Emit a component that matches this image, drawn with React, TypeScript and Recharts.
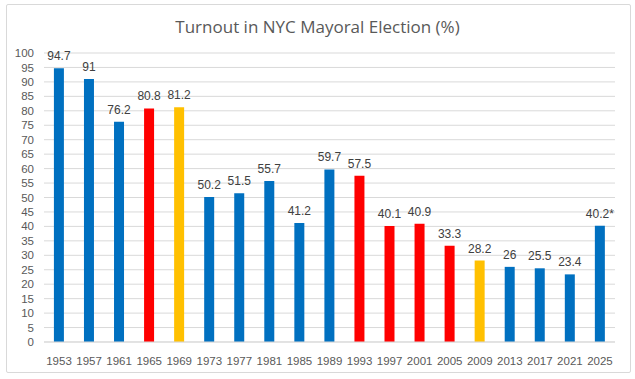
import { BarChart, Bar, XAxis, YAxis, CartesianGrid, Cell, LabelList } from "recharts"

const YEARS = ["1953", "1957", "1961", "1965", "1969", "1973", "1977", "1981", "1985", "1989", "1993", "1997", "2001", "2005", "2009", "2013", "2017", "2021", "2025"]
const TURNOUT = [94.7, 91, 76.2, 80.8, 81.2, 50.2, 51.5, 55.7, 41.2, 59.7, 57.5, 40.1, 40.9, 33.3, 28.2, 26, 25.5, 23.4, 40.2]
const LABELS = ["94.7", "91", "76.2", "80.8", "81.2", "50.2", "51.5", "55.7", "41.2", "59.7", "57.5", "40.1", "40.9", "33.3", "28.2", "26", "25.5", "23.4", "40.2*"]
// D = blue, R = red, L = liberal/other (gold)
const PARTY = ["D", "D", "D", "R", "L", "D", "D", "D", "D", "D", "R", "R", "R", "R", "L", "D", "D", "D", "D"]
const Y_TICKS = [0, 5, 10, 15, 20, 25, 30, 35, 40, 45, 50, 55, 60, 65, 70, 75, 80, 85, 90, 95, 100]

const COLORS: Record<string, string> = { D: "#0070C0", R: "#FF0000", L: "#FFC000" }

const data = YEARS.map((year, i) => ({
  year,
  turnout: TURNOUT[i],
  label: LABELS[i],
  party: PARTY[i],
}))

const FONT = "'Liberation Sans', Arial, sans-serif"

export default function App() {
  return (
    <div style={{ position: "absolute", left: 0, top: 0, width: 635, height: 379, background: "#fff" }}>
      {/* chart frame */}
      <div
        style={{
          position: "absolute",
          left: 6,
          top: 4,
          width: 623,
          height: 367,
          border: "1px solid #D9D9D9",
          borderRadius: 2,
        }}
      />
      <div
        style={{
          position: "absolute",
          left: 0,
          top: 15,
          width: 635,
          textAlign: "center",
          fontFamily: "'Open Sans', sans-serif",
          fontSize: 17,
          color: "#595959",
        }}
      >
        Turnout in NYC Mayoral Election (%)
      </div>
      <div style={{ position: "absolute", left: 0, top: 0 }}>
        <BarChart
          width={635}
          height={379}
          data={data}
          margin={{ top: 53, right: 20, bottom: 7, left: 0 }}
          barCategoryGap="33%"
        >
          <CartesianGrid vertical={false} stroke="#D9D9D9" />
          <XAxis
            dataKey="year"
            axisLine={{ stroke: "#D9D9D9" }}
            tickLine={false}
            tickMargin={9}
            height={30}
            interval={0}
            tick={{ fontSize: 11.5, fill: "#595959", fontFamily: FONT }}
          />
          <YAxis
            domain={[0, 100]}
            ticks={Y_TICKS}
            interval={0}
            width={44}
            axisLine={false}
            tickLine={false}
            tickMargin={4}
            tick={{ fontSize: 11.5, fill: "#595959", fontFamily: FONT }}
          />
          <Bar dataKey="turnout" isAnimationActive={false}>
            {data.map((d) => (
              <Cell key={d.year} fill={COLORS[d.party]} />
            ))}
            <LabelList
              dataKey="label"
              position="top"
              offset={8}
              style={{ fontSize: 12, fill: "#404040", fontFamily: FONT }}
            />
          </Bar>
        </BarChart>
      </div>
    </div>
  )
}
